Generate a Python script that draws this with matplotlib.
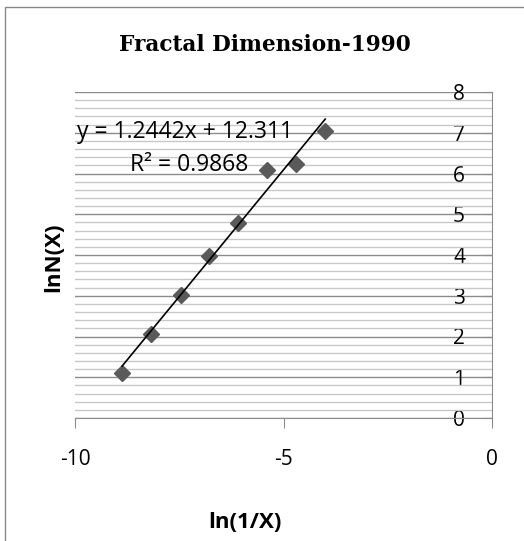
import matplotlib.pyplot as plt
from matplotlib.ticker import MultipleLocator
from matplotlib.patches import Rectangle

plt.rcParams['axes.unicode_minus'] = False

# data
ln_inv_x = [-8.87, -8.17, -7.47, -6.78, -6.08, -5.39, -4.71, -4.00]
ln_n = [1.10, 2.06, 3.03, 3.98, 4.78, 6.09, 6.23, 7.04]
slope = 1.2442
intercept = 12.311
r2 = 0.9868

fig = plt.figure(figsize=(5.24, 5.41), dpi=100)
ax = fig.add_axes([75 / 524, 1 - 418 / 541, 417 / 524, 326 / 541])

# chart border (left and top visible)
fig.patches.append(Rectangle((5 / 524, -0.05), 1.0, 1 - 7 / 541 + 0.05,
                             transform=fig.transFigure, fill=False,
                             edgecolor='#888888', linewidth=1.0))

ax.set_xlim(-10, 0)
ax.set_ylim(0, 8)

# gridlines: major every 1, minor every 0.2
ax.yaxis.set_major_locator(MultipleLocator(1))
ax.yaxis.set_minor_locator(MultipleLocator(0.2))
ax.xaxis.set_major_locator(MultipleLocator(5))
ax.grid(True, axis='y', which='major', color='#8c8c8c', linewidth=1.0)
ax.grid(True, axis='y', which='minor', color='#c8c8c8', linewidth=1.0)
ax.set_axisbelow(True)

for side in ['top', 'left']:
    ax.spines[side].set_visible(False)
ax.spines['right'].set_color('#8c8c8c')
ax.spines['bottom'].set_color('#8c8c8c')

# y axis sits at x=0 (right edge), labels just left of it
ax.tick_params(axis='y', which='major', direction='in', length=6, color='#8c8c8c',
               labelsize=15, left=False, right=True, labelleft=False,
               labelright=True, pad=-28)
ax.tick_params(axis='y', which='minor', length=0)
ax.tick_params(axis='x', which='major', direction='out', length=7, color='#8c8c8c',
               labelsize=15, pad=15)
for lab in ax.get_yticklabels() + ax.get_xticklabels():
    lab.set_fontfamily('Open Sans')

ax.plot(ln_inv_x, ln_n, linestyle='none', marker='D', markersize=8,
        color='#5a5a5a', zorder=3)

fit_x = [min(ln_inv_x), max(ln_inv_x)]
fit_y = [slope * v + intercept for v in fit_x]
ax.plot(fit_x, fit_y, color='black', linewidth=1.2, zorder=4)

ax.text(-9.95, 7.03, 'y = 1.2442x + 12.311', fontsize=16.5, family='Open Sans',
        va='center', ha='left')
ax.text(-7.27, 6.2, 'R² = 0.9868', fontsize=16.5, family='Open Sans',
        va='center', ha='center')

fig.text(265 / 524, 1 - 45 / 541, 'Fractal Dimension-1990', ha='center',
         va='center', fontsize=15.6, fontweight='bold', family='DejaVu Serif')
fig.text(245 / 524, 1 - 523 / 541, 'ln(1/X)', ha='center', va='center',
         fontsize=16, fontweight='bold', family='Open Sans')
fig.text(54 / 524, 1 - 257 / 541, 'lnN(X)', ha='center', va='center',
         rotation=90, fontsize=16, fontweight='bold', family='Open Sans')

fig.savefig('out.png', dpi=100)
